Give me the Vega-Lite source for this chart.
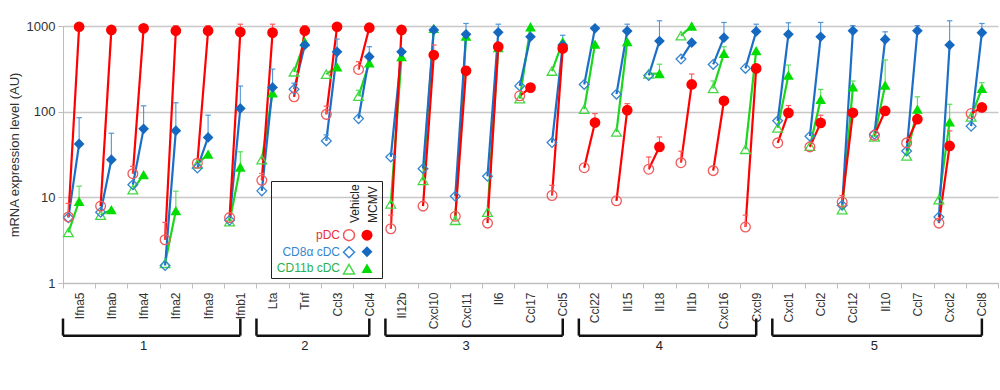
{
  "$schema": "https://vega.github.io/schema/vega-lite/v6.json",
  "width": 935,
  "height": 257,
  "autosize": {"type": "none"},
  "padding": {"left": 63, "top": 26, "right": 2, "bottom": 107},
  "config": {"font": "Liberation Sans", "view": {"stroke": null}},
  "datasets": {
    "expr": [
      {"g":"Ifna5","c":"CD11b cDC","t":"Vehicle","v":3.9},{"g":"Ifna5","c":"CD11b cDC","t":"MCMV","v":9,"e":13.5},
      {"g":"Ifna5","c":"CD8α cDC","t":"Vehicle","v":5.8},{"g":"Ifna5","c":"CD8α cDC","t":"MCMV","v":42,"e":85},
      {"g":"Ifna5","c":"pDC","t":"Vehicle","v":5.9,"e":8.5},{"g":"Ifna5","c":"pDC","t":"MCMV","v":980},
      {"g":"Ifnab","c":"CD11b cDC","t":"Vehicle","v":6.2},{"g":"Ifnab","c":"CD11b cDC","t":"MCMV","v":7.2},
      {"g":"Ifnab","c":"CD8α cDC","t":"Vehicle","v":6.7},{"g":"Ifnab","c":"CD8α cDC","t":"MCMV","v":27.5,"e":56},
      {"g":"Ifnab","c":"pDC","t":"Vehicle","v":7.9},{"g":"Ifnab","c":"pDC","t":"MCMV","v":900},
      {"g":"Ifna4","c":"CD11b cDC","t":"Vehicle","v":12.3},{"g":"Ifna4","c":"CD11b cDC","t":"MCMV","v":18.4},
      {"g":"Ifna4","c":"CD8α cDC","t":"Vehicle","v":14},{"g":"Ifna4","c":"CD8α cDC","t":"MCMV","v":63,"e":117},
      {"g":"Ifna4","c":"pDC","t":"Vehicle","v":18.9,"e":23},{"g":"Ifna4","c":"pDC","t":"MCMV","v":940},
      {"g":"Ifna2","c":"CD11b cDC","t":"Vehicle","v":1.7},{"g":"Ifna2","c":"CD11b cDC","t":"MCMV","v":7,"e":11.8},
      {"g":"Ifna2","c":"CD8α cDC","t":"Vehicle","v":1.6},{"g":"Ifna2","c":"CD8α cDC","t":"MCMV","v":60,"e":127},
      {"g":"Ifna2","c":"pDC","t":"Vehicle","v":3.2,"e":5.1},{"g":"Ifna2","c":"pDC","t":"MCMV","v":880,"e":1010},
      {"g":"Ifna9","c":"CD11b cDC","t":"Vehicle","v":24.5},{"g":"Ifna9","c":"CD11b cDC","t":"MCMV","v":32},
      {"g":"Ifna9","c":"CD8α cDC","t":"Vehicle","v":22},{"g":"Ifna9","c":"CD8α cDC","t":"MCMV","v":50,"e":91},
      {"g":"Ifna9","c":"pDC","t":"Vehicle","v":25},{"g":"Ifna9","c":"pDC","t":"MCMV","v":880,"e":1010},
      {"g":"Ifnb1","c":"CD11b cDC","t":"Vehicle","v":5.2},{"g":"Ifnb1","c":"CD11b cDC","t":"MCMV","v":22.6,"e":34},
      {"g":"Ifnb1","c":"CD8α cDC","t":"Vehicle","v":5.4},{"g":"Ifnb1","c":"CD8α cDC","t":"MCMV","v":109,"e":199},
      {"g":"Ifnb1","c":"pDC","t":"Vehicle","v":5.8},{"g":"Ifnb1","c":"pDC","t":"MCMV","v":850,"e":1050},
      {"g":"Lta","c":"CD11b cDC","t":"Vehicle","v":27.6},{"g":"Lta","c":"CD11b cDC","t":"MCMV","v":166},
      {"g":"Lta","c":"CD8α cDC","t":"Vehicle","v":11.9},{"g":"Lta","c":"CD8α cDC","t":"MCMV","v":192,"e":314},
      {"g":"Lta","c":"pDC","t":"Vehicle","v":15.8,"e":19},{"g":"Lta","c":"pDC","t":"MCMV","v":836,"e":1050},
      {"g":"Tnf","c":"CD11b cDC","t":"Vehicle","v":292},{"g":"Tnf","c":"CD11b cDC","t":"MCMV","v":656},
      {"g":"Tnf","c":"CD8α cDC","t":"Vehicle","v":183,"e":215},{"g":"Tnf","c":"CD8α cDC","t":"MCMV","v":600},
      {"g":"Tnf","c":"pDC","t":"Vehicle","v":149},{"g":"Tnf","c":"pDC","t":"MCMV","v":880,"e":1010},
      {"g":"Ccl3","c":"CD11b cDC","t":"Vehicle","v":274},{"g":"Ccl3","c":"CD11b cDC","t":"MCMV","v":334},
      {"g":"Ccl3","c":"CD8α cDC","t":"Vehicle","v":45.6,"e":53.6},{"g":"Ccl3","c":"CD8α cDC","t":"MCMV","v":500,"e":705},
      {"g":"Ccl3","c":"pDC","t":"Vehicle","v":93,"e":116},{"g":"Ccl3","c":"pDC","t":"MCMV","v":980},
      {"g":"Ccl4","c":"CD11b cDC","t":"Vehicle","v":152,"e":178},{"g":"Ccl4","c":"CD11b cDC","t":"MCMV","v":372},
      {"g":"Ccl4","c":"CD8α cDC","t":"Vehicle","v":83},{"g":"Ccl4","c":"CD8α cDC","t":"MCMV","v":438,"e":573},
      {"g":"Ccl4","c":"pDC","t":"Vehicle","v":311,"e":383},{"g":"Ccl4","c":"pDC","t":"MCMV","v":955},
      {"g":"Il12b","c":"CD11b cDC","t":"Vehicle","v":8.4},{"g":"Il12b","c":"CD11b cDC","t":"MCMV","v":438},
      {"g":"Il12b","c":"CD8α cDC","t":"Vehicle","v":29.6},{"g":"Il12b","c":"CD8α cDC","t":"MCMV","v":500},
      {"g":"Il12b","c":"pDC","t":"Vehicle","v":4.3,"e":6.2},{"g":"Il12b","c":"pDC","t":"MCMV","v":900},
      {"g":"Cxcl10","c":"CD11b cDC","t":"Vehicle","v":15.8},{"g":"Cxcl10","c":"CD11b cDC","t":"MCMV","v":940},
      {"g":"Cxcl10","c":"CD8α cDC","t":"Vehicle","v":21.6},{"g":"Cxcl10","c":"CD8α cDC","t":"MCMV","v":900},
      {"g":"Cxcl10","c":"pDC","t":"Vehicle","v":7.9},{"g":"Cxcl10","c":"pDC","t":"MCMV","v":458,"e":600},
      {"g":"Cxcl11","c":"CD11b cDC","t":"Vehicle","v":5.4},{"g":"Cxcl11","c":"CD11b cDC","t":"MCMV","v":764},
      {"g":"Cxcl11","c":"CD8α cDC","t":"Vehicle","v":10.3},{"g":"Cxcl11","c":"CD8α cDC","t":"MCMV","v":800,"e":1070},
      {"g":"Cxcl11","c":"pDC","t":"Vehicle","v":6},{"g":"Cxcl11","c":"pDC","t":"MCMV","v":300,"e":337},
      {"g":"Il6","c":"CD11b cDC","t":"Vehicle","v":6.7},{"g":"Il6","c":"CD11b cDC","t":"MCMV","v":560},
      {"g":"Il6","c":"CD8α cDC","t":"Vehicle","v":17.6},{"g":"Il6","c":"CD8α cDC","t":"MCMV","v":843,"e":1050},
      {"g":"Il6","c":"pDC","t":"Vehicle","v":5},{"g":"Il6","c":"pDC","t":"MCMV","v":573},
      {"g":"Ccl17","c":"CD11b cDC","t":"Vehicle","v":142},{"g":"Ccl17","c":"CD11b cDC","t":"MCMV","v":980},
      {"g":"Ccl17","c":"CD8α cDC","t":"Vehicle","v":200},{"g":"Ccl17","c":"CD8α cDC","t":"MCMV","v":749},
      {"g":"Ccl17","c":"pDC","t":"Vehicle","v":153},{"g":"Ccl17","c":"pDC","t":"MCMV","v":191},
      {"g":"Ccl5","c":"CD11b cDC","t":"Vehicle","v":298},{"g":"Ccl5","c":"CD11b cDC","t":"MCMV","v":656},
      {"g":"Ccl5","c":"CD8α cDC","t":"Vehicle","v":43.6},{"g":"Ccl5","c":"CD8α cDC","t":"MCMV","v":600,"e":780},
      {"g":"Ccl5","c":"pDC","t":"Vehicle","v":10.5,"e":13.8},{"g":"Ccl5","c":"pDC","t":"MCMV","v":548},
      {"g":"Ccl22","c":"CD11b cDC","t":"Vehicle","v":107},{"g":"Ccl22","c":"CD11b cDC","t":"MCMV","v":615},
      {"g":"Ccl22","c":"CD8α cDC","t":"Vehicle","v":208},{"g":"Ccl22","c":"CD8α cDC","t":"MCMV","v":940},
      {"g":"Ccl22","c":"pDC","t":"Vehicle","v":22.2},{"g":"Ccl22","c":"pDC","t":"MCMV","v":74.7,"e":95},
      {"g":"Il15","c":"CD11b cDC","t":"Vehicle","v":58},{"g":"Il15","c":"CD11b cDC","t":"MCMV","v":656},
      {"g":"Il15","c":"CD8α cDC","t":"Vehicle","v":160},{"g":"Il15","c":"CD8α cDC","t":"MCMV","v":873,"e":1050},
      {"g":"Il15","c":"pDC","t":"Vehicle","v":9.1},{"g":"Il15","c":"pDC","t":"MCMV","v":104,"e":124},
      {"g":"Il18","c":"CD11b cDC","t":"Vehicle","v":276},{"g":"Il18","c":"CD11b cDC","t":"MCMV","v":279,"e":358},
      {"g":"Il18","c":"CD8α cDC","t":"Vehicle","v":265},{"g":"Il18","c":"CD8α cDC","t":"MCMV","v":668,"e":1150},
      {"g":"Il18","c":"pDC","t":"Vehicle","v":21.3,"e":29.6},{"g":"Il18","c":"pDC","t":"MCMV","v":38.8,"e":50.7},
      {"g":"Il1b","c":"CD11b cDC","t":"Vehicle","v":771},{"g":"Il1b","c":"CD11b cDC","t":"MCMV","v":1000},
      {"g":"Il1b","c":"CD8α cDC","t":"Vehicle","v":411},{"g":"Il1b","c":"CD8α cDC","t":"MCMV","v":638},
      {"g":"Il1b","c":"pDC","t":"Vehicle","v":25.4,"e":34.6},{"g":"Il1b","c":"pDC","t":"MCMV","v":208,"e":275},
      {"g":"Cxcl16","c":"CD11b cDC","t":"Vehicle","v":187,"e":228},{"g":"Cxcl16","c":"CD11b cDC","t":"MCMV","v":479,"e":573},
      {"g":"Cxcl16","c":"CD8α cDC","t":"Vehicle","v":356},{"g":"Cxcl16","c":"CD8α cDC","t":"MCMV","v":731,"e":1100},
      {"g":"Cxcl16","c":"pDC","t":"Vehicle","v":20.5},{"g":"Cxcl16","c":"pDC","t":"MCMV","v":134},
      {"g":"Cxcl9","c":"CD11b cDC","t":"Vehicle","v":36.4},{"g":"Cxcl9","c":"CD11b cDC","t":"MCMV","v":515},
      {"g":"Cxcl9","c":"CD8α cDC","t":"Vehicle","v":320},{"g":"Cxcl9","c":"CD8α cDC","t":"MCMV","v":864,"e":1050},
      {"g":"Cxcl9","c":"pDC","t":"Vehicle","v":4.5,"e":6.2},{"g":"Cxcl9","c":"pDC","t":"MCMV","v":320},
      {"g":"Cxcl1","c":"CD11b cDC","t":"Vehicle","v":64.7},{"g":"Cxcl1","c":"CD11b cDC","t":"MCMV","v":267,"e":350},
      {"g":"Cxcl1","c":"CD8α cDC","t":"Vehicle","v":78.2},{"g":"Cxcl1","c":"CD8α cDC","t":"MCMV","v":800,"e":1090},
      {"g":"Cxcl1","c":"pDC","t":"Vehicle","v":43.2},{"g":"Cxcl1","c":"pDC","t":"MCMV","v":96.9,"e":118},
      {"g":"Ccl2","c":"CD11b cDC","t":"Vehicle","v":39.5},{"g":"Ccl2","c":"CD11b cDC","t":"MCMV","v":139,"e":182},
      {"g":"Ccl2","c":"CD8α cDC","t":"Vehicle","v":51.7},{"g":"Ccl2","c":"CD8α cDC","t":"MCMV","v":749,"e":1100},
      {"g":"Ccl2","c":"pDC","t":"Vehicle","v":38.8},{"g":"Ccl2","c":"pDC","t":"MCMV","v":74,"e":91},
      {"g":"Ccl12","c":"CD11b cDC","t":"Vehicle","v":7.2},{"g":"Ccl12","c":"CD11b cDC","t":"MCMV","v":195,"e":228},
      {"g":"Ccl12","c":"CD8α cDC","t":"Vehicle","v":8.1},{"g":"Ccl12","c":"CD8α cDC","t":"MCMV","v":880,"e":1010},
      {"g":"Ccl12","c":"pDC","t":"Vehicle","v":8.8,"e":10.5},{"g":"Ccl12","c":"pDC","t":"MCMV","v":97},
      {"g":"Il10","c":"CD11b cDC","t":"Vehicle","v":50.8},{"g":"Il10","c":"CD11b cDC","t":"MCMV","v":204,"e":402},
      {"g":"Il10","c":"CD8α cDC","t":"Vehicle","v":54.5},{"g":"Il10","c":"CD8α cDC","t":"MCMV","v":698,"e":855},
      {"g":"Il10","c":"pDC","t":"Vehicle","v":53},{"g":"Il10","c":"pDC","t":"MCMV","v":102},
      {"g":"Ccl7","c":"CD11b cDC","t":"Vehicle","v":30.4},{"g":"Ccl7","c":"CD11b cDC","t":"MCMV","v":107,"e":149},
      {"g":"Ccl7","c":"CD8α cDC","t":"Vehicle","v":34.8},{"g":"Ccl7","c":"CD8α cDC","t":"MCMV","v":880,"e":1010},
      {"g":"Ccl7","c":"pDC","t":"Vehicle","v":43.2},{"g":"Ccl7","c":"pDC","t":"MCMV","v":81.7},
      {"g":"Cxcl2","c":"CD11b cDC","t":"Vehicle","v":9.4},{"g":"Cxcl2","c":"CD11b cDC","t":"MCMV","v":76,"e":122},
      {"g":"Cxcl2","c":"CD8α cDC","t":"Vehicle","v":5.9},{"g":"Cxcl2","c":"CD8α cDC","t":"MCMV","v":600,"e":1150},
      {"g":"Cxcl2","c":"pDC","t":"Vehicle","v":5},{"g":"Cxcl2","c":"pDC","t":"MCMV","v":39.8,"e":59.7},
      {"g":"Ccl8","c":"CD11b cDC","t":"Vehicle","v":87},{"g":"Ccl8","c":"CD11b cDC","t":"MCMV","v":187,"e":218},
      {"g":"Ccl8","c":"CD8α cDC","t":"Vehicle","v":67.6},{"g":"Ccl8","c":"CD8α cDC","t":"MCMV","v":836,"e":1070},
      {"g":"Ccl8","c":"pDC","t":"Vehicle","v":95},{"g":"Ccl8","c":"pDC","t":"MCMV","v":112}
    ],
    "br": [
      {"grp":"1","from":"Ifna5","to":"Ifnb1","mid":"Ifna4","mo":"MCMV"},
      {"grp":"2","from":"Lta","to":"Ccl4","mid":"Tnf","mo":"MCMV"},
      {"grp":"3","from":"Il12b","to":"Ccl5","mid":"Cxcl11","mo":"MCMV"},
      {"grp":"4","from":"Ccl22","to":"Cxcl9","mid":"Il18","mo":"MCMV"},
      {"grp":"5","from":"Cxcl1","to":"Ccl8","mid":"Il10","mo":"Vehicle"}
    ]
  },
  "data": {"name": "expr"},
  "layer": [
    {
      "mark": {"type": "line", "strokeWidth": 2.2},
      "encoding": {
        "x": {"field": "g", "type": "nominal",
          "scale": {"domain": ["Ifna5","Ifnab","Ifna4","Ifna2","Ifna9","Ifnb1","Lta","Tnf","Ccl3","Ccl4","Il12b","Cxcl10","Cxcl11","Il6","Ccl17","Ccl5","Ccl22","Il15","Il18","Il1b","Cxcl16","Cxcl9","Cxcl1","Ccl2","Ccl12","Il10","Ccl7","Cxcl2","Ccl8"], "paddingInner": 0, "paddingOuter": 0},
          "axis": {"title": null, "labelAngle": -90, "labelFontSize": 12, "labelColor": "#333", "labelPadding": 4, "tickBand": "extent", "tickSize": 5, "tickColor": "#bdbdbd", "domainColor": "#bdbdbd", "grid": false}},
        "xOffset": {"field": "t", "type": "nominal", "scale": {"domain": ["Vehicle","MCMV","pad"], "paddingInner": 0, "paddingOuter": 0}},
        "y": {"field": "v", "type": "quantitative",
          "scale": {"type": "log", "domain": [1, 1000], "nice": false},
          "axis": {"values": [1, 10, 100, 1000], "format": "d", "title": "mRNA expression level  (AU)", "titleFontSize": 13, "titleFontWeight": "normal", "titleColor": "#333", "titlePadding": 5, "labelFontSize": 13, "labelColor": "#333", "labelPadding": 3, "tickSize": 5, "tickColor": "#bdbdbd", "domainColor": "#bdbdbd", "gridColor": "#c8c8c8", "gridWidth": 1.3}},
        "color": {"field": "c", "type": "nominal", "scale": {"domain": ["pDC","CD8α cDC","CD11b cDC"], "range": ["#ff0000","#1c6fc6","#1ed61e"]}, "legend": null},
        "detail": {"field": "g"}
      }
    },
    {
      "transform": [{"filter": "isValid(datum.e)"}],
      "mark": {"type": "rule", "strokeWidth": 1.1},
      "encoding": {
        "x": {"field": "g", "type": "nominal"},
        "xOffset": {"field": "t", "type": "nominal"},
        "y": {"field": "v", "type": "quantitative"},
        "y2": {"field": "e"},
        "color": {"field": "c", "type": "nominal", "scale": {"domain": ["pDC","CD8α cDC","CD11b cDC"], "range": ["#ff5a5a","#4f95d8","#55e055"]}, "legend": null}
      }
    },
    {
      "transform": [{"filter": "isValid(datum.e)"}],
      "mark": {"type": "point", "shape": "stroke", "filled": false, "size": 30, "strokeWidth": 1.2, "opacity": 1},
      "encoding": {
        "x": {"field": "g", "type": "nominal"},
        "xOffset": {"field": "t", "type": "nominal"},
        "y": {"field": "e", "type": "quantitative"},
        "color": {"field": "c", "type": "nominal", "scale": {"domain": ["pDC","CD8α cDC","CD11b cDC"], "range": ["#ff5a5a","#4f95d8","#55e055"]}, "legend": null}
      }
    },
    {
      "transform": [{"filter": "datum.t == 'Vehicle'"}],
      "mark": {"type": "point", "filled": false, "size": 95, "strokeWidth": 1.3, "opacity": 1},
      "encoding": {
        "x": {"field": "g", "type": "nominal"},
        "xOffset": {"field": "t", "type": "nominal"},
        "y": {"field": "v", "type": "quantitative"},
        "color": {"field": "c", "type": "nominal", "scale": {"domain": ["pDC","CD8α cDC","CD11b cDC"], "range": ["#f05a5a","#3585d0","#45d845"]},
          "legend": {"orient": "none", "legendX": 208, "legendY": 155, "title": ["Vehicle","MCMV"], "titleOpacity": 0, "titleFontSize": 12, "titleFontWeight": "normal", "titleLineHeight": 18, "titlePadding": 6, "labelFontSize": 12, "labelAlign": "right", "labelOffset": -15.5, "labelExpr": "''", "symbolOffset": 68.5, "symbolSize": 120, "symbolStrokeWidth": 1.5, "rowPadding": 0, "padding": 3,
            "encoding": {"title": {"angle": {"value": -90}, "align": {"value": "left"}, "baseline": {"value": "top"}, "lineHeight": {"value": 18}, "dx": {"value": -39}, "dy": {"value": 76}}}}},
        "shape": {"field": "c", "type": "nominal", "scale": {"domain": ["pDC","CD8α cDC","CD11b cDC"], "range": ["circle","diamond","triangle-up"]}}
      }
    },
    {
      "transform": [{"filter": "datum.t == 'MCMV'"}],
      "mark": {"type": "point", "filled": true, "size": 115, "opacity": 1},
      "encoding": {
        "x": {"field": "g", "type": "nominal"},
        "xOffset": {"field": "t", "type": "nominal"},
        "y": {"field": "v", "type": "quantitative"},
        "color": {"field": "c", "type": "nominal", "scale": {"domain": ["pDC","CD8α cDC","CD11b cDC"], "range": ["#ff0000","#1468c0","#00dd00"]},
          "legend": {"orient": "none", "legendX": 208, "legendY": 155, "title": ["Vehicle","MCMV"], "titleColor": "#222", "titleFontSize": 12, "titleFontWeight": "normal", "titleLineHeight": 18, "titlePadding": 6, "labelFontSize": 12, "labelAlign": "right", "labelOffset": -33.5, "labelColor": {"expr": "datum.label == 'pDC' ? '#e8303a' : datum.label == 'CD11b cDC' ? '#27b04e' : '#3687cc'"}, "symbolOffset": 86.5, "symbolSize": 120, "symbolStrokeWidth": 1.5, "rowPadding": 3.5, "padding": 3, "strokeColor": "#222",
            "encoding": {"title": {"angle": {"value": -90}, "align": {"value": "left"}, "baseline": {"value": "top"}, "lineHeight": {"value": 18}, "dx": {"value": -39}, "dy": {"value": 76}}}}},
        "shape": {"field": "c", "type": "nominal", "scale": {"domain": ["pDC","CD8α cDC","CD11b cDC"], "range": ["circle","diamond","triangle-up"]}}
      }
    },
    {
      "data": {"name": "br"},
      "mark": {"type": "rule", "strokeWidth": 2.5, "color": "#111"},
      "encoding": {
        "x": {"field": "from", "type": "nominal", "bandPosition": 0},
        "x2": {"field": "to"},
        "y": {"datum": 0.243}
      }
    },
    {
      "data": {"name": "br"},
      "mark": {"type": "rule", "strokeWidth": 2.5, "color": "#111"},
      "encoding": {
        "x": {"field": "from", "type": "nominal", "bandPosition": 0},
        "y": {"datum": 0.385},
        "y2": {"datum": 0.243}
      }
    },
    {
      "data": {"name": "br"},
      "mark": {"type": "rule", "strokeWidth": 2.5, "color": "#111"},
      "encoding": {
        "x": {"field": "to", "type": "nominal"},
        "y": {"datum": 0.385},
        "y2": {"datum": 0.243}
      }
    },
    {
      "data": {"name": "br"},
      "mark": {"type": "text", "fontSize": 13, "color": "#222", "baseline": "middle"},
      "encoding": {
        "x": {"field": "mid", "type": "nominal"},
        "xOffset": {"field": "mo", "type": "nominal"},
        "y": {"datum": 0.186},
        "text": {"field": "grp"}
      }
    }
  ],
  "resolve": {"scale": {"color": "independent", "shape": "independent"}}
}
